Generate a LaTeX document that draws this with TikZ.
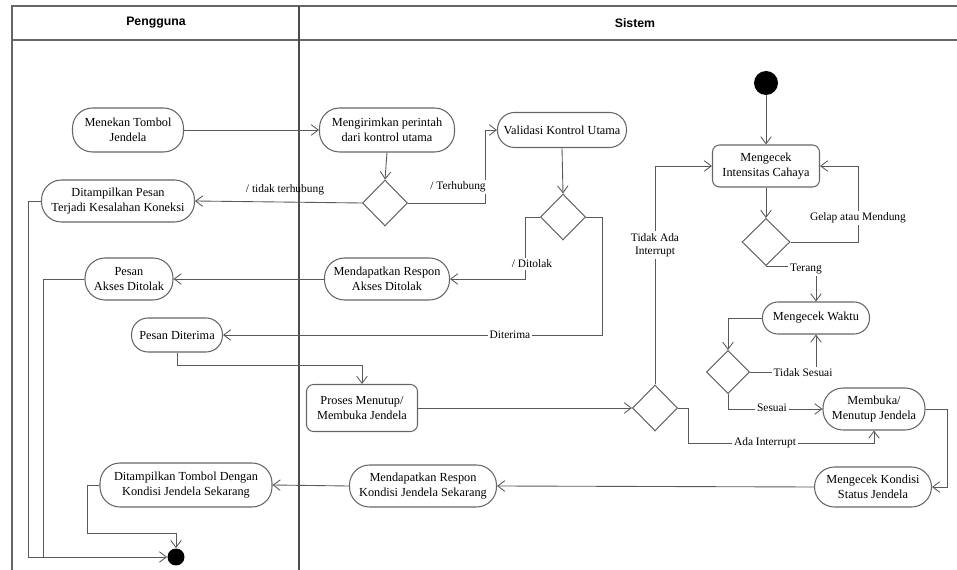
\documentclass[tikz,border=0pt]{standalone}
\usepackage{fontspec}
\setmainfont{Liberation Serif}
\newfontfamily\headfont{Liberation Sans}
\usetikzlibrary{arrows.meta,shapes.geometric}

\begin{document}
\begin{tikzpicture}[x=0.02cm, y=-0.02cm,
  font=\fontsize{7}{8.5}\selectfont,
  line/.style={draw=black!65, line width=0.5pt},
  flow/.style={line, -{Straight Barb[length=4pt,width=6pt]}},
  act/.style={draw=black!60, line width=0.6pt, rounded corners=0.4cm, align=center, inner sep=1pt},
  proc/.style={draw=black!60, line width=0.6pt, rounded corners=0.14cm, align=center, inner sep=1pt},
  decision/.style={diamond, draw=black!60, line width=0.6pt, aspect=1, minimum width=0.9cm, minimum height=0.92cm, inner sep=0pt},
  dot/.style={circle, fill=black, inner sep=0pt},
  lbl/.style={fill=white, inner sep=1pt, font=\fontsize{6.5}{7.5}\selectfont, align=center},
  lane/.style={font=\headfont\bfseries\fontsize{7}{8.5}\selectfont}]
\useasboundingbox (0,0) rectangle (957,570);

% Swimlanes
\def\xdiv{299}
\draw[black!60, line width=0.8pt] (12,570) -- (12,6) -- (960,6);
\draw[black!60, line width=0.8pt] (12,40) -- (960,40);
\draw[black!70, line width=0.6pt] (\xdiv,6) -- (\xdiv,570);
\node[lane] (pengguna) at (156,23) {Pengguna};
\node[lane] (sistem)   at (635,23) {Sistem};

% Pengguna
\node[act, minimum width=2.22cm, minimum height=0.88cm] (tombol) at (128,130) {Menekan Tombol\\Jendela};
\node[act, minimum width=3.06cm, minimum height=0.84cm] (gagal)  at (118,201) {Ditampilkan Pesan\\Terjadi Kesalahan Koneksi};
\node[act, minimum width=1.76cm, minimum height=0.84cm] (tolak)  at (129,279) {Pesan\\Akses Ditolak};
\node[act, minimum width=1.82cm, minimum height=0.68cm, rounded corners=0.33cm] (terima) at (177,335) {Pesan Diterima};
\node[act, minimum width=3.44cm, minimum height=0.88cm] (tampil) at (186,485) {Ditampilkan Tombol Dengan\\Kondisi Jendela Sekarang};
\node[dot, minimum size=0.34cm] (akhir) at (176,557) {};

% Sistem
\node[act, minimum width=2.7cm, minimum height=0.88cm]  (kirim)    at (387,130) {Mengirimkan perintah\\dari kontrol utama};
\node[decision] (d1) at (385,203) {};
\node[act, minimum width=2.58cm, minimum height=0.7cm, rounded corners=0.34cm] (validasi) at (562,130) {Validasi Kontrol Utama};
\node[decision] (d2) at (563,217) {};
\node[act, minimum width=2.5cm, minimum height=0.84cm]  (resptolak) at (387,279) {Mendapatkan Respon\\Akses Ditolak};
\node[proc, minimum width=2.22cm, minimum height=0.94cm] (proses)   at (362,408) {Proses Menutup/\\Membuka Jendela};
\node[decision] (d3) at (655,408) {};
\node[dot, minimum size=0.48cm] (mulai) at (766,83) {};
\node[proc, minimum width=2.14cm, minimum height=0.84cm] (cahaya)   at (766,166) {Mengecek\\Intensitas Cahaya};
\node[decision, minimum width=0.96cm, minimum height=0.94cm] (d4) at (766,242) {};
\node[act, minimum width=2.14cm, minimum height=0.64cm, rounded corners=0.31cm] (waktu) at (816,318) {Mengecek Waktu};
\node[decision, minimum width=0.86cm, minimum height=0.86cm] (d5) at (728,372) {};
\node[act, minimum width=2.04cm, minimum height=0.84cm]  (buka)     at (874,409) {Membuka/\\Menutup Jendela};
\node[act, minimum width=2.34cm, minimum height=0.8cm]   (status)   at (873,487) {Mengecek Kondisi\\Status Jendela};
\node[act, minimum width=2.94cm, minimum height=0.84cm]  (respkond) at (423,486) {Mendapatkan Respon\\Kondisi Jendela Sekarang};

% Alur
\draw[flow] (tombol.east) -- (kirim.west);
\draw[flow] (kirim.south) -- (d1.north);
\draw[flow] (d1.west) -- (gagal.east);
\node[lbl, fill=none] (ltidak) at (285,190) {/ tidak terhubung};
\draw[flow] (d1.east) -- (485,203) |- (validasi.west);
\node[lbl] (lhubung) at (458,187) {/ Terhubung};
\draw[flow] (validasi.south) -- (d2.north);
\draw[flow] (d2.west) -- (525,217) |- (resptolak.east);
\node[lbl] (ltolak) at (532,264) {/ Ditolak};
\draw[flow] (d2.east) -- (602,217) |- (terima.east);
\node[lbl] (lterima) at (510,335) {Diterima};
\draw[flow] (resptolak.west) -- (tolak.east);
\draw[flow] (terima.south) -- (177,365) -| (proses.north);
\draw[flow] (proses.east) -- (d3.west);
\draw[flow] (d3.north) |- (cahaya.west);
\node[lbl] (ltidakada) at (655,245) {Tidak Ada\\Interrupt};
\draw[flow] (d3.east) -- (688,408) |- (874,443) -- (buka.south);
\node[lbl] (lada) at (765,443) {Ada Interrupt};
\draw[flow] (mulai) -- (cahaya.north);
\draw[flow] (cahaya.south) -- (d4.north);
\draw[flow] (d4.east) -- (858,242) |- (cahaya.east);
\node[lbl] (lgelap) at (858,218) {Gelap atau Mendung};
\draw[flow] (d4.south) -| (waktu.north);
\node[lbl] (lterang) at (806,269) {Terang};
\draw[flow] (waktu.west) -| (d5.north);
\draw[flow] (d5.east) -| (waktu.south);
\node[lbl] (ltidaksesuai) at (803,373) {Tidak Sesuai};
\draw[flow] (d5.south) |- (buka.west);
\node[lbl] (lsesuai) at (772,408) {Sesuai};
\draw[flow] (buka.east) -- (947,409) |- (status.east);
\draw[flow] (status.west) -- (respkond.east);
\draw[flow] (respkond.west) -- (tampil.east);
\draw[flow] (tampil.west) -- (87,485) -- (87,533) -| (akhir.north);
\draw[flow] (gagal.west) -- (28,201) |- (akhir.west);
\draw[line] (tolak.west) -- (43,279) -- (43,557);
\end{tikzpicture}
\end{document}
